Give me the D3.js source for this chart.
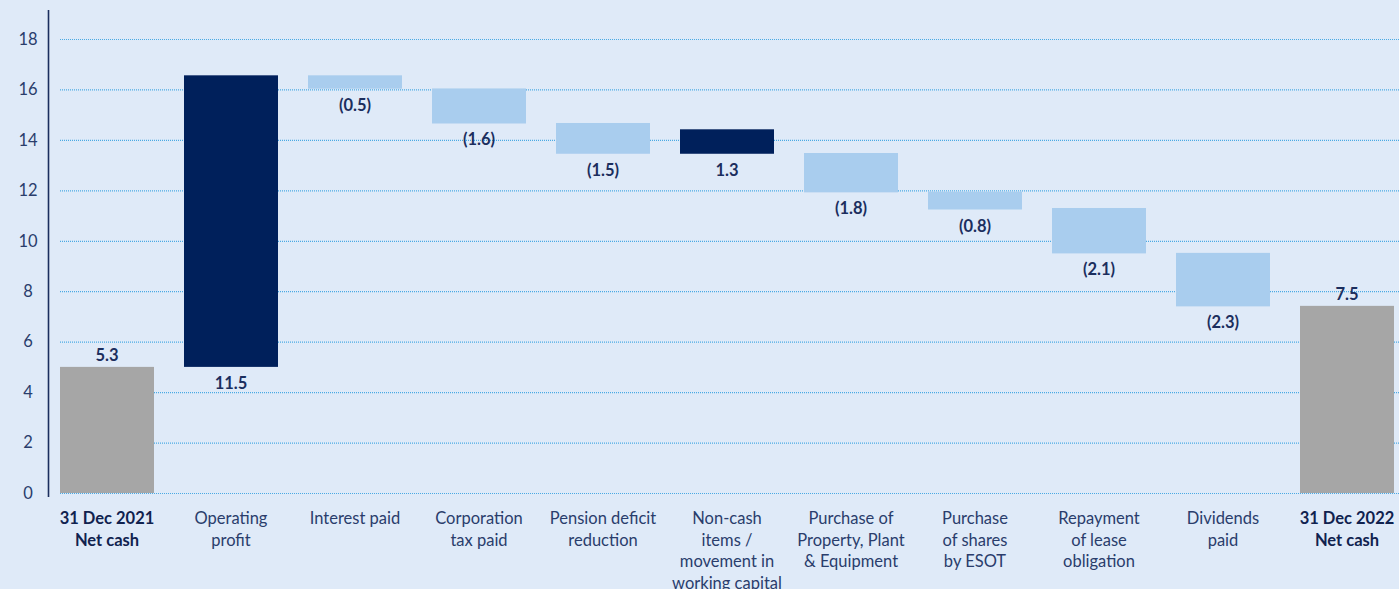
<!DOCTYPE html>
<html lang="en">
<head>
<meta charset="UTF-8">
<title>Net cash bridge 2021 - 2022</title>
<script src="https://d3js.org/d3.v7.min.js"></script>
<style>
    body { margin: 0; background: #dfeaf8; }
    svg { display: block; }
</style>
</head>
<body>
<svg id="chart"></svg>
<script>
    // categories (multi-line labels)
    const categories = [
        ["31 Dec 2021", "Net cash"],
        ["Operating", "profit"],
        ["Interest paid"],
        ["Corporation", "tax paid"],
        ["Pension deficit", "reduction"],
        ["Non-cash", "items /", "movement in", "working capital"],
        ["Purchase of", "Property, Plant", "& Equipment"],
        ["Purchase", "of shares", "by ESOT"],
        ["Repayment", "of lease", "obligation"],
        ["Dividends", "paid"],
        ["31 Dec 2022", "Net cash"]
    ];
    const kinds = ["total", "up", "down", "down", "down", "up", "down", "down", "down", "down", "total"];
    const valueLabels = ["5.3", "11.5", "(0.5)", "(1.6)", "(1.5)", "1.3", "(1.8)", "(0.8)", "(2.1)", "(2.3)", "7.5"];
    // bar extents as drawn in the picture (£m)
    const barLow  = [0, 5.0, 16.03, 14.65, 13.45, 13.45, 11.92, 11.24, 9.5, 7.4, 0];
    const barHigh = [5.0, 16.56, 16.56, 16.04, 14.67, 14.42, 13.48, 11.95, 11.3, 9.52, 7.42];
    const yTicks = [0, 2, 4, 6, 8, 10, 12, 14, 16, 18];

    const width = 1399, height = 589;
    const svg = d3.select("#chart").attr("width", width).attr("height", height);

    const x = d3.scaleBand()
        .domain(d3.range(categories.length))
        .range([45, 1409])
        .paddingInner(0.242)
        .paddingOuter(0.121);

    const y = d3.scaleLinear().domain([0, 18]).range([493, 39]);

    const colors = { total: "#a6a6a6", up: "#00205b", down: "#a9cdee" };
    const textColor = "#1b2e5e";

    // grid lines (fine dotted)
    svg.append("g")
        .selectAll("line")
        .data(yTicks)
        .join("line")
        .attr("x1", 60).attr("x2", width)
        .attr("y1", d => y(d) + 0.5).attr("y2", d => y(d) + 0.5)
        .attr("stroke", "#4aaae4")
        .attr("stroke-width", 1.2)
        .attr("stroke-dasharray", "1,1");

    // y axis
    svg.append("line")
        .attr("x1", 48.5).attr("x2", 48.5)
        .attr("y1", 10).attr("y2", 497)
        .attr("stroke", "#1b2e5e").attr("stroke-width", 1.6);

    svg.append("g")
        .selectAll("text")
        .data(yTicks)
        .join("text")
        .attr("x", 28)
        .attr("y", d => y(d))
        .attr("dy", "0.35em")
        .attr("text-anchor", "middle")
        .attr("font-family", "Lato, sans-serif")
        .attr("font-size", 16.5)
        .attr("fill", "#2a3d6c")
        .text(d => d);

    // bars
    svg.append("g")
        .selectAll("rect")
        .data(categories)
        .join("rect")
        .attr("x", (d, i) => x(i))
        .attr("width", x.bandwidth())
        .attr("y", (d, i) => y(barHigh[i]))
        .attr("height", (d, i) => y(barLow[i]) - y(barHigh[i]))
        .attr("fill", (d, i) => colors[kinds[i]]);

    // value labels: totals above bar, others below
    svg.append("g")
        .selectAll("text")
        .data(valueLabels)
        .join("text")
        .attr("x", (d, i) => x(i) + x.bandwidth() / 2)
        .attr("y", (d, i) => kinds[i] === "total" ? y(barHigh[i]) - 6 : y(barLow[i]) + 22)
        .attr("text-anchor", "middle")
        .attr("font-family", "Lato, sans-serif")
        .attr("font-weight", "bold")
        .attr("font-size", 16.5)
        .attr("fill", textColor)
        .text(d => d);

    // category labels
    const cat = svg.append("g")
        .selectAll("text")
        .data(categories)
        .join("text")
        .attr("x", (d, i) => x(i) + x.bandwidth() / 2)
        .attr("y", 524)
        .attr("text-anchor", "middle")
        .attr("font-family", "Lato, sans-serif")
        .attr("font-size", 16.5)
        .attr("font-weight", (d, i) => kinds[i] === "total" ? "bold" : "normal")
        .attr("fill", (d, i) => kinds[i] === "total" ? "#10224f" : "#2a3d6c");

    cat.selectAll("tspan")
        .data(d => d)
        .join("tspan")
        .attr("x", function () { return this.parentNode.getAttribute("x"); })
        .attr("dy", (d, j) => j === 0 ? 0 : 21.5)
        .text(d => d);
</script>
</body>
</html>
